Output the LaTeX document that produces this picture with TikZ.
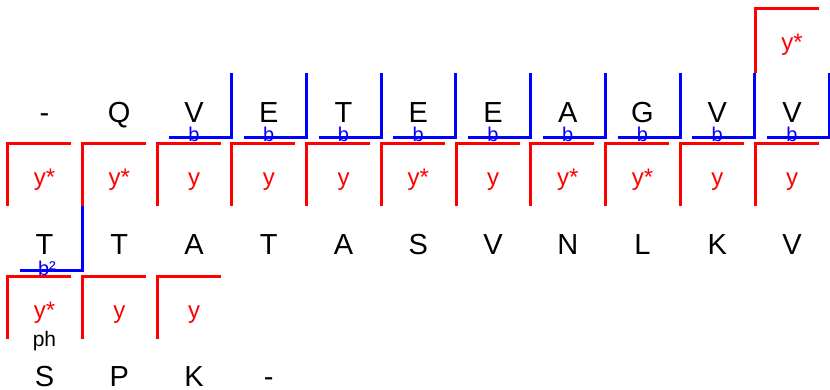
\documentclass[tikz,border=0pt]{standalone}
\usepackage{fontspec}
\setmainfont{Liberation Sans}
\begin{document}
\begin{tikzpicture}[x=1pt,y=-1pt,
  res/.style={font=\fontsize{29}{29}\selectfont, anchor=base, inner sep=0pt},
  ylab/.style={font=\fontsize{24}{24}\selectfont, text=red, anchor=base, inner sep=0pt},
  blab/.style={font=\fontsize{20}{20}\selectfont, text=blue, anchor=base, inner sep=0pt},
  phlab/.style={font=\fontsize{21}{21}\selectfont, text=black, anchor=base, inner sep=0pt},
  ybr/.style={draw=red, line width=3pt},
  bbr/.style={draw=blue, line width=3pt}]
\useasboundingbox (0,0) rectangle (830,389);
% blue b brackets, row 1 (columns 2..10)
\foreach \i in {2,...,10}{
  \draw[bbr] ({7.5+74.75*\i+12},137) -- ({7.5+74.75*\i+74.5},137) -- ({7.5+74.75*\i+74.5},73);
  \node[blab] (b\i) at ({44.5+74.75*\i},141.5) {b};
}
% blue b2 bracket, row 2 column 0
\draw[bbr] (19.5,270) -- (82,270) -- (82,206);
\node[blab] (bb0) at (47,275) {b²};
% red y brackets, row 1
\foreach \t [count=\i from 0] in {y*,y*,y,y,y,y*,y,y*,y*,y,y}{
  \draw[ybr] ({7.5+74.75*\i},206) -- ({7.5+74.75*\i},143) -- ({7.5+74.75*\i+63.5},143);
  \node[ylab] (ya\i) at ({44.5+74.75*\i},185) {\t};
}
% red y brackets, row 2
\foreach \t [count=\i from 0] in {y*,y,y}{
  \draw[ybr] ({7.5+74.75*\i},339) -- ({7.5+74.75*\i},276) -- ({7.5+74.75*\i+63.5},276);
  \node[ylab] (yb\i) at ({44.5+74.75*\i},318) {\t};
}
% top red bracket
\draw[ybr] (755,73) -- (755,8.5) -- (818.5,8.5);
\node[ylab] (ytop) at (792,50) {y*};
% ph
\node[phlab] (ph) at (44.5,346) {ph};
% residues
\foreach \l [count=\i from 0] in {-,Q,V,E,T,E,E,A,G,V,V}{
  \node[res] (r1c\i) at ({44.5+74.75*\i},122) {\l};
}
\foreach \l [count=\i from 0] in {T,T,A,T,A,S,V,N,L,K,V}{
  \node[res] (r2c\i) at ({44.5+74.75*\i},254.5) {\l};
}
\foreach \l [count=\i from 0] in {S,P,K,-}{
  \node[res] (r3c\i) at ({44.5+74.75*\i},386) {\l};
}
\end{tikzpicture}
\end{document}
